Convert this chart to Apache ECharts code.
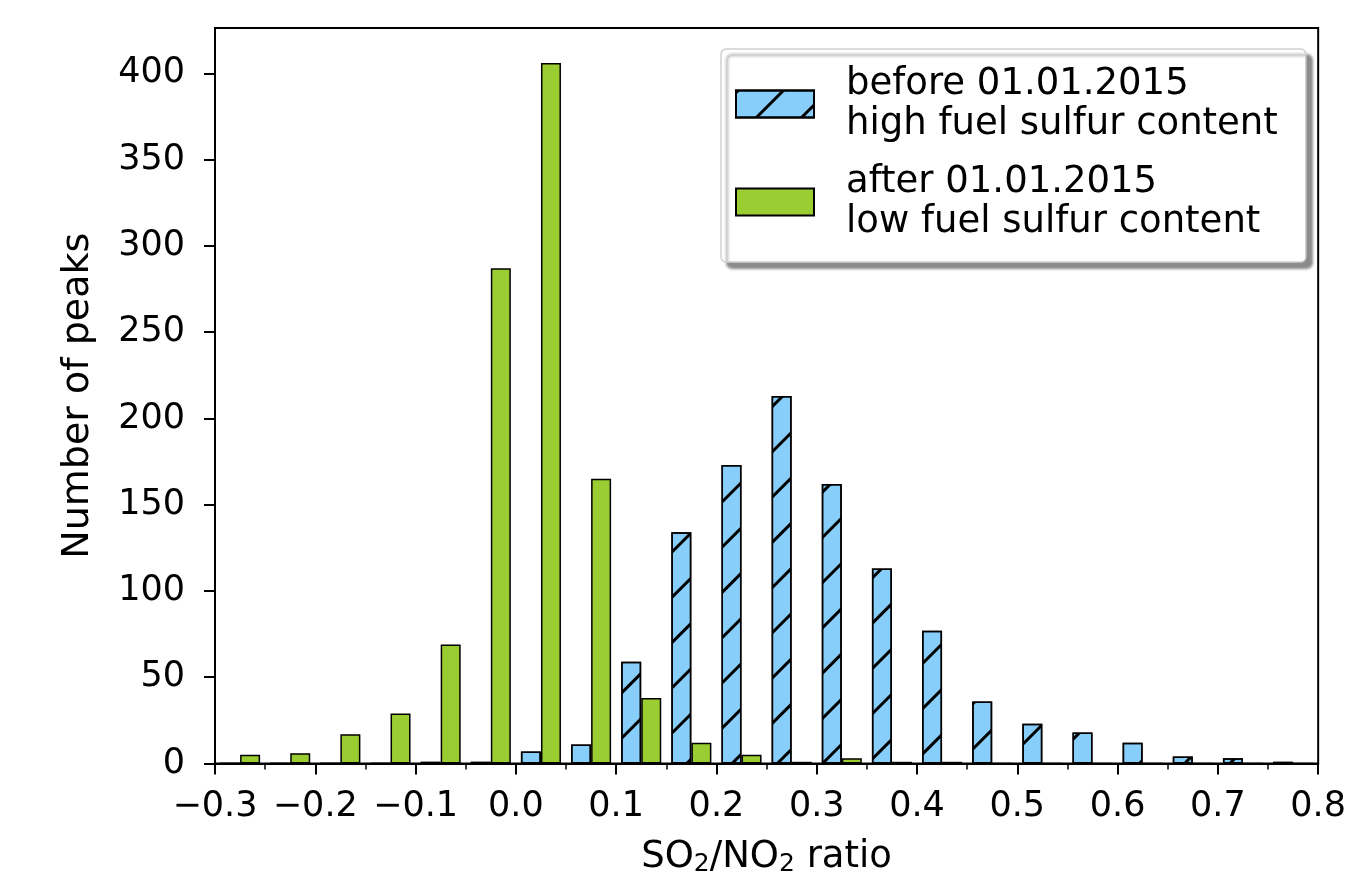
<!DOCTYPE html>
<html>
<head>
<meta charset="utf-8">
<title>SO2/NO2 ratio histogram</title>
<script src="https://cdn.jsdelivr.net/npm/echarts@6/dist/echarts.min.js"></script>
<style>
	html, body { margin: 0; padding: 0; background: #fff; }
	#chart { width: 1349px; height: 882px; }
</style>
</head>
<body>
<div id="chart"></div>
<script>
// left edge of each 0.05 wide bin
var binStarts = [-0.3, -0.25, -0.2, -0.15, -0.1, -0.05, 0.0, 0.05, 0.1, 0.15, 0.2,
	0.25, 0.3, 0.35, 0.4, 0.45, 0.5, 0.55, 0.6, 0.65, 0.7, 0.75];
var beforeCounts = [0, 0, 0, 0, 1, 1, 7, 11, 59, 134, 173, 213, 162, 113, 77, 36, 23, 18, 12, 4, 3, 1];
var afterCounts = [5, 6, 17, 29, 69, 287, 406, 165, 38, 12, 5, 1, 3, 1, 1, 0, 0, 0, 0, 0, 0, 0];
var beforeName = 'before 01.01.2015\nhigh fuel sulfur content';
var afterName = 'after 01.01.2015\nlow fuel sulfur content';
var yTicks = [0, 50, 100, 150, 200, 250, 300, 350, 400];

// matplotlib hist, 2 datasets: each bar is 0.02 wide, first one starts 0.005 into the bin
var beforeData = [];
var afterData = [];
for (var i = 0; i < binStarts.length; i++) {
	beforeData.push([binStarts[i] + 0.015, beforeCounts[i]]);
	afterData.push([binStarts[i] + 0.035, afterCounts[i]]);
}

var font = 'DejaVu Sans';
var myChart = echarts.init(document.getElementById('chart'));

var option = {
	animation: false,
	textStyle: { fontFamily: font },
	grid: {
		left: 215,
		top: 28,
		width: 1108,
		height: 742,
		show: true,
		borderColor: '#000',
		borderWidth: 2,
		containLabel: false
	},
	legend: {
		orient: 'vertical',
		left: 721,
		top: 49,
		padding: [10, 28, 15, 14],
		itemGap: 8,
		itemWidth: 78,
		itemHeight: 27,
		icon: 'rect',
		backgroundColor: '#fff',
		borderColor: '#d0d0d0',
		borderWidth: 1.5,
		borderRadius: 5,
		shadowColor: 'rgba(0,0,0,0.45)',
		shadowBlur: 3,
		shadowOffsetX: 6,
		shadowOffsetY: 6,
		textStyle: {
			fontFamily: font,
			fontSize: 37,
			lineHeight: 40,
			color: '#000',
			padding: [0, 0, 10, 27]
		},
		data: [beforeName, afterName]
	},
	xAxis: {
		type: 'value',
		min: -0.3,
		max: 0.8,
		interval: 0.1,
		name: '{a|SO}{b|2}{a|/NO}{b|2}{a| ratio}',
		nameLocation: 'middle',
		nameGap: 74,
		nameTextStyle: {
			fontFamily: font,
			color: '#000',
			rich: {
				a: { fontFamily: font, fontSize: 37, lineHeight: 40, color: '#000' },
				b: { fontFamily: font, fontSize: 25, lineHeight: 40, padding: [14, 0, 0, 0], color: '#000' }
			}
		},
		splitLine: { show: false },
		axisLine: { show: true, lineStyle: { color: '#000', width: 2 } },
		axisTick: { show: true, inside: false, length: 11, lineStyle: { color: '#000', width: 2 } },
		minorTick: { show: true, splitNumber: 2, length: 6, lineStyle: { color: '#000', width: 1.5 } },
		axisLabel: {
			fontFamily: font,
			fontSize: 35,
			color: '#000',
			margin: 26,
			formatter: function(v) {
				return v.toFixed(1).replace('-', '\u2212');
			}
		}
	},
	yAxis: {
		type: 'value',
		min: 0,
		max: 426.3,
		name: 'Number of peaks',
		nameLocation: 'middle',
		nameGap: 118,
		nameTextStyle: { fontFamily: font, fontSize: 38, color: '#000' },
		splitLine: { show: false },
		axisLine: { show: true, onZero: false, lineStyle: { color: '#000', width: 2 } },
		axisTick: { show: true, inside: false, length: 11, customValues: yTicks, lineStyle: { color: '#000', width: 2 } },
		axisLabel: {
			fontFamily: font,
			fontSize: 35,
			color: '#000',
			margin: 30,
			customValues: yTicks
		}
	},
	series: [
		{
			name: beforeName,
			type: 'bar',
			barWidth: 20,
			barGap: '-100%',
			data: beforeData,
			itemStyle: {
				color: '#87cefa',
				borderColor: '#000',
				borderWidth: 1.5,
				decal: {
					symbol: 'rect',
					symbolSize: 1,
					color: '#000',
					dashArrayX: [1, 0],
					dashArrayY: [3, 29],
					rotation: -Math.PI / 4
				}
			}
		},
		{
			name: afterName,
			type: 'bar',
			barWidth: 20,
			barGap: '-100%',
			data: afterData,
			itemStyle: {
				color: '#9acd32',
				borderColor: '#000',
				borderWidth: 1.5
			}
		}
	]
};

myChart.setOption(option);
</script>
</body>
</html>
